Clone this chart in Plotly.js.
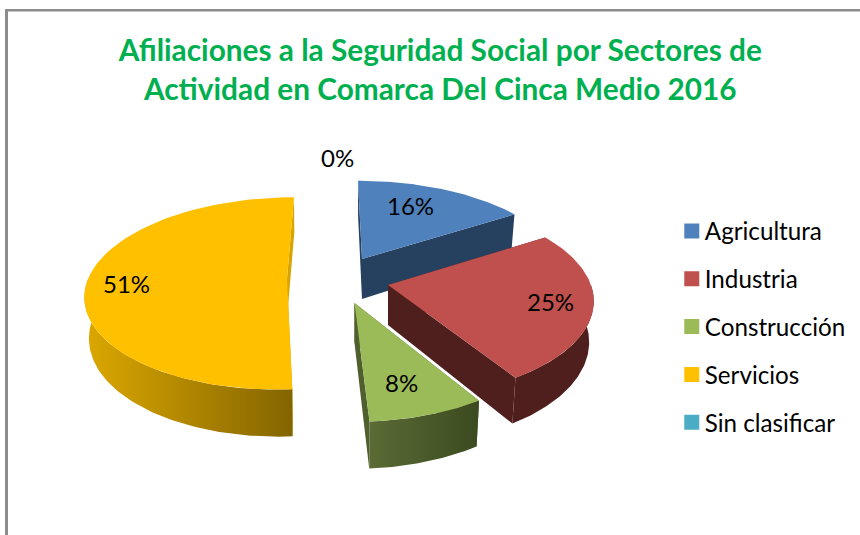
<!DOCTYPE html>
<html>
<head>
<meta charset="utf-8">
<script src="https://cdn.plot.ly/plotly-3.0.1.min.js"></script>
<style>html,body{margin:0;padding:0;background:#fff}#chart{width:860px;height:535px}</style>
</head>
<body>
<div id="chart"></div>
<script>
// ---- chart data ----
const chartTitle = 'Afiliaciones a la Seguridad Social por Sectores de<br>Actividad en Comarca Del Cinca Medio 2016';
const categories = ['Agricultura', 'Industria', 'Construcción', 'Servicios', 'Sin clasificar'];
const values = [16, 25, 8, 51, 0];
const topColors = ['#4F81BD', '#C0504D', '#9BBB59', '#FFC000', '#4BACC6'];

// ---- look of the 3-D exploded pie (one entry per category) ----
const apexX = [362, 388, 354.5, 287, 337];
const apexY = [259, 285, 303, 279, 180];
const radiusX = [198, 203, 203, 199, 10];
const radiusY = [90, 96, 101, 94, 10];
const leanX = [4.6, 3, 0, -8, 0];
const wallShift = [0, -0.5, 0, 0.5, 0];
const wallScale = 0.98;
const wallColors = [
  [[0, '#26405F'], [1, '#26405F']],
  [[0, '#4F1F1E'], [1, '#4F1F1E']],
  [[0, '#5A6B35'], [1, '#3C4A20']],
  [[0, '#DCA800'], [1, '#836400']],
  [[0, '#2C6E80'], [1, '#2C6E80']]
];
const cutColors = ['#26405F', '#4F1F1E', '#4F5F2E', '#D9A400', '#2C6E80'];
const labelX = [410, 550, 401, 126, 337];
const labelY = [205.5, 301.5, 382.5, 283.5, 157.5];
const perspective = 0.15;
const depth = 40;

const total = values.reduce((a, b) => a + b, 0);

function project(i, theta, down) {
  const u = Math.sin(theta), v = -Math.cos(theta);
  const s = 1 / (1 - perspective * v);
  const dx = (radiusX[i] * u + leanX[i] * v) * s;
  return [
    apexX[i] + (down ? dx * wallScale + wallShift[i] : dx),
    apexY[i] + radiusY[i] * v * s + (down ? depth * s : 0)
  ];
}
function apex(i, down) {
  return [apexX[i], apexY[i] + (down ? depth : 0)];
}
function arc(i, a0, a1, down) {
  const pts = [];
  for (let k = 0; k <= 80; k++) pts.push(project(i, a0 + (a1 - a0) * k / 80, down));
  return pts;
}
function polyTrace(pts, extra) {
  const closed = pts.concat([pts[0]]);
  return Object.assign({
    type: 'scatter', mode: 'lines', x: closed.map(p => p[0]), y: closed.map(p => p[1]),
    fill: 'toself', line: {width: 0}, showlegend: false, hoverinfo: 'skip'
  }, extra);
}

const starts = [], ends = [];
let run = 0;
values.forEach((val, i) => {
  starts[i] = run / total * 2 * Math.PI;
  run += val;
  ends[i] = run / total * 2 * Math.PI;
});

function sliceTraces(i) {
  const a0 = starts[i], a1 = ends[i], out = [];
  if (a1 <= a0) return out;
  // cut walls
  const cut = [a0, a1].map(a => polyTrace(
    [project(i, a, false), project(i, a, true), apex(i, true), apex(i, false)],
    {fillcolor: cutColors[i]}));
  out.push(cut[0], cut[1]);
  // outer wall: the part of the rim facing the viewer
  const w0 = Math.max(a0, Math.PI / 2), w1 = Math.min(a1, Math.PI * 1.5);
  if (w1 > w0) {
    out.push(polyTrace(arc(i, w0, w1, false).concat(arc(i, w1, w0, true)), {
      fillgradient: {type: 'horizontal', colorscale: wallColors[i]}
    }));
  }
  // top face
  out.push(polyTrace([apex(i, false)].concat(arc(i, a0, a1, false)), {
    fillcolor: topColors[i], name: categories[i]
  }));
  return out;
}

const traces = [];
[3, 0, 1, 2].forEach(i => traces.push(...sliceTraces(i)));

// legend entries
categories.forEach((c, i) => traces.push({
  type: 'scatter', mode: 'markers', x: [null], y: [null], name: c, legendgroup: c,
  marker: {symbol: 'square', size: 15, color: topColors[i]}, showlegend: true
}));

const annotations = categories.map((c, i) => ({
  x: labelX[i], y: labelY[i], xref: 'x', yref: 'y', showarrow: false,
  text: Math.round(values[i] / total * 100) + '%',
  font: {family: 'Lato, Carlito, sans-serif', size: 24, color: '#000'}
}));

const layout = {
  width: 860, height: 535,
  margin: {l: 0, r: 0, t: 0, b: 0},
  paper_bgcolor: '#fff', plot_bgcolor: 'rgba(0,0,0,0)',
  xaxis: {range: [0, 860], visible: false, fixedrange: true},
  yaxis: {range: [535, 0], visible: false, fixedrange: true},
  title: {
    text: chartTitle, x: 0.512, xanchor: 'center', y: 0.886, yanchor: 'middle',
    font: {family: 'Lato, Carlito, sans-serif', size: 29.8, color: '#00B050', weight: 700}
  },
  showlegend: true,
  legend: {
    x: 0.773, xanchor: 'left', y: 0.61, yanchor: 'top',
    font: {family: 'Lato, Carlito, sans-serif', size: 24.2, color: '#000'},
    itemwidth: 30, tracegroupgap: 13.4, bgcolor: 'rgba(0,0,0,0)', traceorder: 'grouped'
  },
  annotations,
  shapes: [
    {type: 'line', xref: 'x', yref: 'y', x0: 6.5, x1: 6.5, y0: 9, y1: 535, line: {color: '#8C8C8C', width: 3}},
    {type: 'line', xref: 'x', yref: 'y', x0: 5, x1: 860, y0: 10.3, y1: 10.3, line: {color: '#8C8C8C', width: 2.5}}
  ]
};

Plotly.newPlot('chart', traces, layout, {displayModeBar: false, staticPlot: true}).then(() => {
  // bring the legend swatches closer to their labels
  document.querySelectorAll('#chart .legend .legendsymbols').forEach(g => {
    g.setAttribute('transform', 'translate(7,0)');
  });
});
</script>
</body>
</html>
